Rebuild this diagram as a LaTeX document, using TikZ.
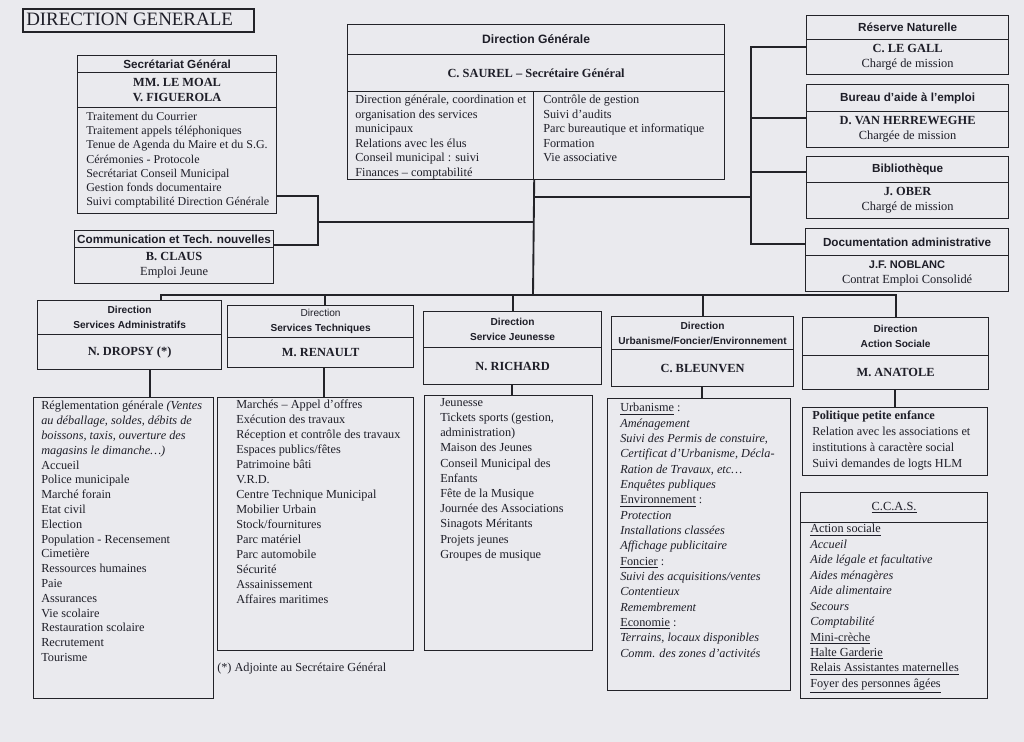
\documentclass[tikz,border=0pt]{standalone}
\usepackage{fontspec}
\setmainfont{Liberation Serif}
\setsansfont{Liberation Sans}
\newcommand\pxu{0.75pt}
\definecolor{bgc}{RGB}{234,234,238}
\definecolor{linec}{RGB}{35,35,40}
\definecolor{txtc}{RGB}{30,30,40}
\tikzset{
 cell/.style={draw=linec, line width=0.9pt, anchor=north west, inner sep=0pt, align=center, text=txtc},
 hdr/.style={font=\fontsize{8.8}{10.5}\sffamily\bfseries\selectfont},
 dhdr/.style={font=\fontsize{7.6}{11}\sffamily\bfseries\selectfont},
 nm/.style={font=\fontsize{9.3}{11.2}\bfseries\selectfont},
 nm2/.style={font=\fontsize{9.3}{11.2}\selectfont},
 lst/.style={anchor=north west, inner sep=0pt, align=left, text=txtc},
 conn/.style={draw=linec, line width=1.4pt},
}
\begin{document}
\begin{tikzpicture}[x=0.75pt,y=-0.75pt]
\useasboundingbox (0,0) rectangle (1024,742);
\fill[bgc] (0,0) rectangle (1024,742);

% title
\node[cell, line width=1.6pt, minimum width=231*\pxu, minimum height=23*\pxu] (title) at (22,8) {};
\node[anchor=west, inner sep=0pt, text=txtc, font=\fontsize{14.2}{16}\selectfont] (titlet) at (26,19.5) {DIRECTION GENERALE};

% Secretariat general
\node[cell, hdr, minimum width=199*\pxu, minimum height=17*\pxu] (sgh) at (77,55) {Secrétariat Général};
\node[cell, nm, minimum width=199*\pxu, minimum height=35*\pxu] (sgn) at (77,72) {MM. LE MOAL\\V. FIGUEROLA};
\node[cell, minimum width=199*\pxu, minimum height=106*\pxu] (sgl) at (77,107) {};
\node[lst, font=\fontsize{9}{10.65}\selectfont] (sglt) at (86,112) {Traitement du Courrier\\Traitement appels téléphoniques\\Tenue de Agenda du Maire et du S.G.\\Cérémonies - Protocole\\Secrétariat Conseil Municipal\\Gestion fonds documentaire\\Suivi comptabilité Direction Générale};

% Communication
\node[cell, hdr, minimum width=199*\pxu, minimum height=17*\pxu] (cmh) at (74,230) {Communication et Tech. nouvelles};
\node[cell, nm2, minimum width=199*\pxu, minimum height=36*\pxu] (cmn) at (74,247) {\textbf{B. CLAUS}\\Emploi Jeune};

% Direction generale
\node[cell, font=\fontsize{9.1}{11}\sffamily\bfseries\selectfont, minimum width=377*\pxu, minimum height=30*\pxu] (dgh) at (347,24) {Direction Générale};
\node[cell, nm, minimum width=377*\pxu, minimum height=37*\pxu] (dgn) at (347,54) {C. SAUREL -- Secrétaire Général};
\node[cell, minimum width=186*\pxu, minimum height=88*\pxu] (dgl) at (347,91) {};
\node[cell, minimum width=191*\pxu, minimum height=88*\pxu] (dgr) at (533,91) {};
\node[lst, font=\fontsize{9.2}{10.9}\selectfont] (dglt) at (355,95) {Direction générale, coordination et\\organisation des services\\municipaux\\Relations avec les élus\\Conseil municipal : suivi\\Finances -- comptabilité};
\node[lst, font=\fontsize{9.2}{10.9}\selectfont] (dgrt) at (543,95) {Contrôle de gestion\\Suivi d'audits\\Parc bureautique et informatique\\Formation\\Vie associative};

% right boxes
\node[cell, hdr, minimum width=202*\pxu, minimum height=24*\pxu] (rnh) at (806,15) {Réserve Naturelle};
\node[cell, nm2, minimum width=202*\pxu, minimum height=35*\pxu] (rnn) at (806,39) {\textbf{C. LE GALL}\\Chargé de mission};
\node[cell, hdr, minimum width=202*\pxu, minimum height=27*\pxu] (bah) at (806,84) {Bureau d'aide à l'emploi};
\node[cell, nm2, minimum width=202*\pxu, minimum height=36*\pxu] (ban) at (806,111) {\textbf{D. VAN HERREWEGHE}\\Chargée de mission};
\node[cell, hdr, minimum width=202*\pxu, minimum height=26*\pxu] (bih) at (806,156) {Bibliothèque};
\node[cell, nm2, minimum width=202*\pxu, minimum height=36*\pxu] (bin) at (806,182) {\textbf{J. OBER}\\Chargé de mission};
\node[cell, hdr, minimum width=203*\pxu, minimum height=27*\pxu] (doh) at (805,228) {Documentation administrative};
\node[cell, nm2, minimum width=203*\pxu, minimum height=36*\pxu] (don) at (805,255) {{\sffamily\bfseries\fontsize{8.3}{11.2}\selectfont J.F. NOBLANC}\\Contrat Emploi Consolidé};

% direction row
\node[cell, dhdr, minimum width=184*\pxu, minimum height=34*\pxu] (sah) at (37,300) {Direction\\Services Administratifs};
\node[cell, nm, minimum width=184*\pxu, minimum height=35*\pxu] (san) at (37,334) {N. DROPSY (*)};
\node[cell, dhdr, minimum width=186*\pxu, minimum height=32*\pxu] (sth) at (227,305) {{\mdseries Direction}\\Services Techniques};
\node[cell, nm, minimum width=186*\pxu, minimum height=30*\pxu] (stn) at (227,337) {M. RENAULT};
\node[cell, dhdr, minimum width=178*\pxu, minimum height=36*\pxu] (sjh) at (423,311) {Direction\\Service Jeunesse};
\node[cell, nm, minimum width=178*\pxu, minimum height=37*\pxu] (sjn) at (423,347) {N. RICHARD};
\node[cell, dhdr, minimum width=182*\pxu, minimum height=33*\pxu] (suh) at (611,316) {Direction\\Urbanisme/Foncier/Environnement};
\node[cell, nm, minimum width=182*\pxu, minimum height=37*\pxu] (sun) at (611,349) {C. BLEUNVEN};
\node[cell, dhdr, minimum width=186*\pxu, minimum height=38*\pxu] (ash) at (802,317) {Direction\\Action Sociale};
\node[cell, nm, minimum width=186*\pxu, minimum height=34*\pxu] (asn) at (802,355) {M. ANATOLE};

% lists
\node[cell, minimum width=180*\pxu, minimum height=301*\pxu] (sal) at (33,397) {};
\node[lst, font=\fontsize{9.2}{11.1}\selectfont] (salt) at (41,401) {Réglementation générale \textit{(Ventes}\\\textit{au déballage, soldes, débits de}\\\textit{boissons, taxis, ouverture des}\\\textit{magasins le dimanche…)}\\Accueil\\Police municipale\\Marché forain\\Etat civil\\Election\\Population - Recensement\\Cimetière\\Ressources humaines\\Paie\\Assurances\\Vie scolaire\\Restauration scolaire\\Recrutement\\Tourisme};

\node[cell, minimum width=196*\pxu, minimum height=253*\pxu] (stl) at (217,397) {};
\node[lst, font=\fontsize{9.2}{11.2}\selectfont] (stlt) at (236,400) {Marchés -- Appel d'offres\\Exécution des travaux\\Réception et contrôle des travaux\\Espaces publics/fêtes\\Patrimoine bâti\\V.R.D.\\Centre Technique Municipal\\Mobilier Urbain\\Stock/fournitures\\Parc matériel\\Parc automobile\\Sécurité\\Assainissement\\Affaires maritimes};
\node[anchor=west, inner sep=0pt, text=txtc, font=\fontsize{9.2}{11}\selectfont] (foot) at (217,669) {(*) Adjointe au Secrétaire Général};

\node[cell, minimum width=168*\pxu, minimum height=255*\pxu] (sjl) at (424,395) {};
\node[lst, font=\fontsize{9.2}{11.4}\selectfont] (sjlt) at (440,398) {Jeunesse\\Tickets sports (gestion,\\administration)\\Maison des Jeunes\\Conseil Municipal des\\Enfants\\Fête de la Musique\\Journée des Associations\\Sinagots Méritants\\Projets jeunes\\Groupes de musique};

\node[cell, minimum width=183*\pxu, minimum height=292*\pxu] (sul) at (607,398) {};
\node[lst, font=\fontsize{9.2}{11.5}\selectfont] (sult) at (620,403) {\underline{Urbanisme} :\\\textit{Aménagement}\\\textit{Suivi des Permis de constuire,}\\\textit{Certificat d'Urbanisme, Décla-}\\\textit{Ration de Travaux, etc…}\\\textit{Enquêtes publiques}\\\underline{Environnement} :\\\textit{Protection}\\\textit{Installations classées}\\\textit{Affichage publicitaire}\\\underline{Foncier} :\\\textit{Suivi des acquisitions/ventes}\\\textit{Contentieux}\\\textit{Remembrement}\\\underline{Economie} :\\\textit{Terrains, locaux disponibles}\\\textit{Comm. des zones d'activités}};

\node[cell, minimum width=185*\pxu, minimum height=68*\pxu] (asp) at (802,407) {};
\node[lst, font=\fontsize{9.2}{11.8}\selectfont] (aspt) at (812,411) {\textbf{Politique petite enfance}\\Relation avec les associations et\\institutions à caractère social\\Suivi demandes de logts HLM};

\node[cell, nm2, minimum width=187*\pxu, minimum height=30*\pxu] (cch) at (800,492) {\underline{C.C.A.S.}};
\node[cell, minimum width=187*\pxu, minimum height=176*\pxu] (ccl) at (800,522) {};
\node[lst, font=\fontsize{9.2}{11.6}\selectfont] (cclt) at (810,524) {\underline{Action sociale}\\\textit{Accueil}\\\textit{Aide légale et facultative}\\\textit{Aides ménagères}\\\textit{Aide alimentaire}\\\textit{Secours}\\\textit{Comptabilité}\\\underline{Mini-crèche}\\\underline{Halte Garderie}\\\underline{Relais Assistantes maternelles}\\\underline{Foyer des personnes âgées}};

% connector junctions
\coordinate (j1) at (318,196);
\coordinate (j2) at (318,222);
\coordinate (j3) at (318,245);
\coordinate (dgv) at (533,197);
\coordinate (bus) at (533,295);
\coordinate (rb0) at (751,197);
\coordinate (rb1) at (751,47);
\coordinate (rb2) at (751,118);
\coordinate (rb3) at (751,172);
\coordinate (rb4) at (751,244);
\coordinate (bL) at (161,295);
\coordinate (b2) at (325,295);
\coordinate (b3) at (513,295);
\coordinate (b4) at (703,295);
\coordinate (bR) at (896,295);
\coordinate (d1) at (150,380);
\coordinate (d2) at (324,380);
\coordinate (d3) at (512,380);
\coordinate (d4) at (702,380);
\coordinate (d5) at (895,380);

\draw[conn] (sgl.east |- j1) -- (j1) -- (j3) -- (cmh.east |- j3);
\draw[conn] (j2) -- (j2 -| dgl.south east);
\draw[conn] (dgl.south east) -- (bus);
\draw[conn] (dgv) -- (rb0);
\draw[conn] (rnn.west |- rb1) -- (rb1) -- (rb4) -- (doh.west |- rb4);
\draw[conn] (rb2) -- (ban.west |- rb2);
\draw[conn] (rb3) -- (bih.west |- rb3);
\draw[conn] (bL |- sah.north) -- (bL) -- (bR) -- (bR |- ash.north);
\draw[conn] (b2) -- (b2 |- sth.north);
\draw[conn] (b3) -- (b3 |- sjh.north);
\draw[conn] (b4) -- (b4 |- suh.north);
\draw[conn] (d1 |- san.south) -- (d1 |- sal.north);
\draw[conn] (d2 |- stn.south) -- (d2 |- stl.north);
\draw[conn] (d3 |- sjn.south) -- (d3 |- sjl.north);
\draw[conn] (d4 |- sun.south) -- (d4 |- sul.north);
\draw[conn] (d5 |- asn.south) -- (d5 |- asp.north);
\end{tikzpicture}
\end{document}
